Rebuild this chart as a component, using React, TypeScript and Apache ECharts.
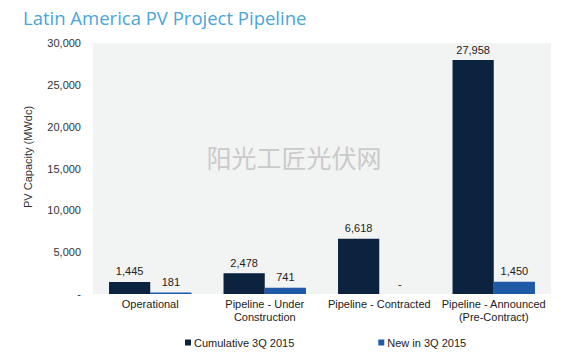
import React, { useEffect, useRef } from "react";
import * as echarts from "echarts";

const categories = [
  "Operational",
  "Pipeline - Under\nConstruction",
  "Pipeline - Contracted",
  "Pipeline - Announced\n(Pre-Contract)",
];
const cumulative = [1445, 2478, 6618, 27958];
const newIn3Q = [181, 741, 0, 1450];
const seriesNames = ["Cumulative 3Q 2015", "New in 3Q 2015"];
const yTicks = [0, 5000, 10000, 15000, 20000, 25000, 30000];

const fmt = (v: number) => (v === 0 ? "-" : v.toLocaleString("en-US"));

export default function App() {
  const ref = useRef<HTMLDivElement>(null);
  useEffect(() => {
    const chart = echarts.init(ref.current!, undefined, { renderer: "svg" });
    const font = "Liberation Sans, Arial, sans-serif";
    chart.setOption({
      animation: false,
      backgroundColor: "#ffffff",
      textStyle: { fontFamily: font },
      title: {
        text: "Latin America PV Project Pipeline",
        left: 18,
        top: 3,
        textStyle: {
          fontFamily: "Open Sans, Noto Sans, sans-serif",
          fontWeight: "normal",
          fontSize: 18.5,
          color: "#4aa6d8",
        },
      },
      grid: { left: 93, right: 34, top: 43, bottom: 64, backgroundColor: "#f2f3f3", show: true, borderWidth: 0 },
      legend: {
        data: seriesNames,
        left: 180,
        top: 332,
        itemWidth: 6,
        itemHeight: 6,
        itemGap: 84,
        icon: "rect",
        textStyle: { fontSize: 11, color: "#222", fontFamily: font, padding: [0, 0, 0, -2] },
      },
      xAxis: {
        type: "category",
        data: categories,
        axisLine: { show: false },
        axisTick: { show: false },
        axisLabel: { fontSize: 11, color: "#222", margin: 3, lineHeight: 13, interval: 0, fontFamily: font },
      },
      yAxis: {
        type: "value",
        min: yTicks[0],
        max: yTicks[yTicks.length - 1],
        interval: 5000,
        splitLine: { show: false },
        axisLine: { show: false },
        axisTick: { show: false },
        axisLabel: { fontSize: 11, color: "#333", margin: 12, formatter: (v: number) => fmt(v), fontFamily: font },
      },
      series: [
        {
          name: seriesNames[0],
          type: "bar",
          data: cumulative,
          barGap: "0%",
          barCategoryGap: "28%",
          itemStyle: { color: "#0c2340" },
          label: { show: true, position: "top", fontSize: 11, color: "#222", formatter: (p: any) => fmt(p.value), fontFamily: font },
        },
        {
          name: seriesNames[1],
          type: "bar",
          data: newIn3Q,
          barGap: "0%",
          barCategoryGap: "28%",
          itemStyle: { color: "#1f5aa6" },
          label: { show: true, position: "top", fontSize: 11, color: "#222", formatter: (p: any) => fmt(p.value), fontFamily: font },
        },
      ],
      graphic: [
        {
          type: "text",
          x: 28,
          y: 157,
          rotation: Math.PI / 2,
          style: {
            text: "PV Capacity (MWdc)",
            fontSize: 11,
            fill: "#333",
            fontFamily: font,
            align: "center",
            verticalAlign: "middle",
          },
        },
        {
          type: "text",
          x: 294,
          y: 157,
          z: 100,
          style: {
            text: "阳光工匠光伏网",
            fontSize: 25,
            fill: "#cacaca",
            fontFamily: "Noto Sans CJK SC",
            align: "center",
            verticalAlign: "middle",
          },
        },
      ],
    });
    return () => chart.dispose();
  }, []);
  return <div ref={ref} style={{ width: 585, height: 358, margin: -8 }} />;
}
